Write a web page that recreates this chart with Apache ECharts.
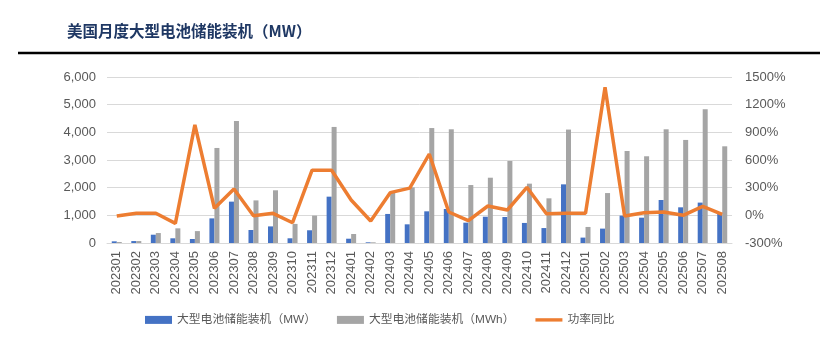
<!DOCTYPE html>
<html>
<head>
<meta charset="utf-8">
<script src="https://cdn.jsdelivr.net/npm/echarts@6/dist/echarts.min.js"></script>
<style>
  html, body { margin: 0; padding: 0; background: #fff; }
  #main { width: 821px; height: 351px; }
</style>
</head>
<body>
<div id="main"></div>
<script>
const months = ['202301', '202302', '202303', '202304', '202305', '202306', '202307', '202308',
  '202309', '202310', '202311', '202312', '202401', '202402', '202403', '202404',
  '202405', '202406', '202407', '202408', '202409', '202410', '202411', '202412',
  '202501', '202502', '202503', '202504', '202505', '202506', '202507', '202508'];

// 大型电池储能装机（MW）
const powerMW = [60, 70, 300, 170, 145, 890, 1495, 470,
  600, 170, 460, 1675, 155, 25, 1050, 675,
  1145, 1230, 735, 950, 940, 725, 540, 2120,
  195, 520, 990, 915, 1555, 1290, 1460, 1050];

// 大型电池储能装机（MWh）
const energyMWh = [35, 70, 360, 530, 430, 3435, 4410, 1540,
  1905, 690, 990, 4195, 325, 25, 1820, 2010,
  4155, 4110, 2095, 2360, 2965, 2145, 1615, 4100,
  580, 1805, 3325, 3135, 4110, 3725, 4830, 3495];

// 功率同比（%）
const yoyPct = [-7, 22, 22, -87, 980, 76, 285, -4,
  22, -80, 490, 488, 166, -61, 246, 295,
  665, 36, -58, 101, 58, 304, 18, 22,
  22, 1388, -7, 29, 36, 0, 98, 11];

const labelFont = '"Liberation Sans", "Noto Sans CJK SC", sans-serif';
const chart = echarts.init(document.getElementById('main'));

chart.setOption({
  animation: false,
  backgroundColor: '#fff',
  title: {
    text: '美国月度大型电池储能装机（MW）',
    left: 62,
    top: 18,
    textStyle: {
      color: '#1f3864',
      fontSize: 15.5,
      fontWeight: 'bold',
      fontFamily: '"Noto Sans CJK SC", sans-serif'
    }
  },
  graphic: [{
    type: 'line',
    shape: { x1: 18, y1: 53, x2: 820, y2: 53 },
    style: { stroke: '#000', lineWidth: 2.5 }
  }],
  legend: {
    left: 145,
    top: 314,
    padding: 0,
    itemWidth: 27,
    itemHeight: 8,
    itemGap: 21,
    textStyle: { color: '#595959', fontSize: 11.8, fontFamily: labelFont },
    data: [
      { name: '大型电池储能装机（MW）', icon: 'rect' },
      { name: '大型电池储能装机（MWh）', icon: 'rect' },
      { name: '功率同比', icon: 'path://M0,0 L28,0 L28,3.5 L0,3.5 Z' }
    ]
  },
  grid: { left: 107, right: 89, top: 77, bottom: 108 },
  xAxis: {
    type: 'category',
    data: months,
    axisLine: { lineStyle: { color: '#d9d9d9' } },
    axisTick: { show: false },
    axisLabel: {
      rotate: 90,
      interval: 0,
      margin: 8,
      color: '#595959',
      fontSize: 13,
      fontFamily: labelFont
    }
  },
  yAxis: [{
    type: 'value',
    min: 0,
    max: 6000,
    interval: 1000,
    axisLine: { show: false },
    axisTick: { show: false },
    splitLine: { lineStyle: { color: '#d9d9d9' } },
    axisLabel: {
      color: '#595959',
      fontSize: 13,
      margin: 11,
      fontFamily: labelFont,
      formatter: v => v.toLocaleString('en-US')
    }
  }, {
    type: 'value',
    min: -300,
    max: 1500,
    interval: 300,
    axisLine: { show: false },
    axisTick: { show: false },
    splitLine: { show: false },
    axisLabel: {
      color: '#595959',
      fontSize: 13,
      margin: 13,
      fontFamily: labelFont,
      formatter: v => v + '%'
    }
  }],
  series: [{
    name: '大型电池储能装机（MW）',
    type: 'bar',
    data: powerMW,
    barWidth: 5,
    barGap: '0%',
    itemStyle: { color: '#4472c4' }
  }, {
    name: '大型电池储能装机（MWh）',
    type: 'bar',
    data: energyMWh,
    barWidth: 5,
    itemStyle: { color: '#a5a5a5' }
  }, {
    name: '功率同比',
    type: 'line',
    yAxisIndex: 1,
    data: yoyPct,
    symbol: 'none',
    lineStyle: { color: '#ed7d31', width: 3.5 },
    itemStyle: { color: '#ed7d31' }
  }]
});
</script>
</body>
</html>
